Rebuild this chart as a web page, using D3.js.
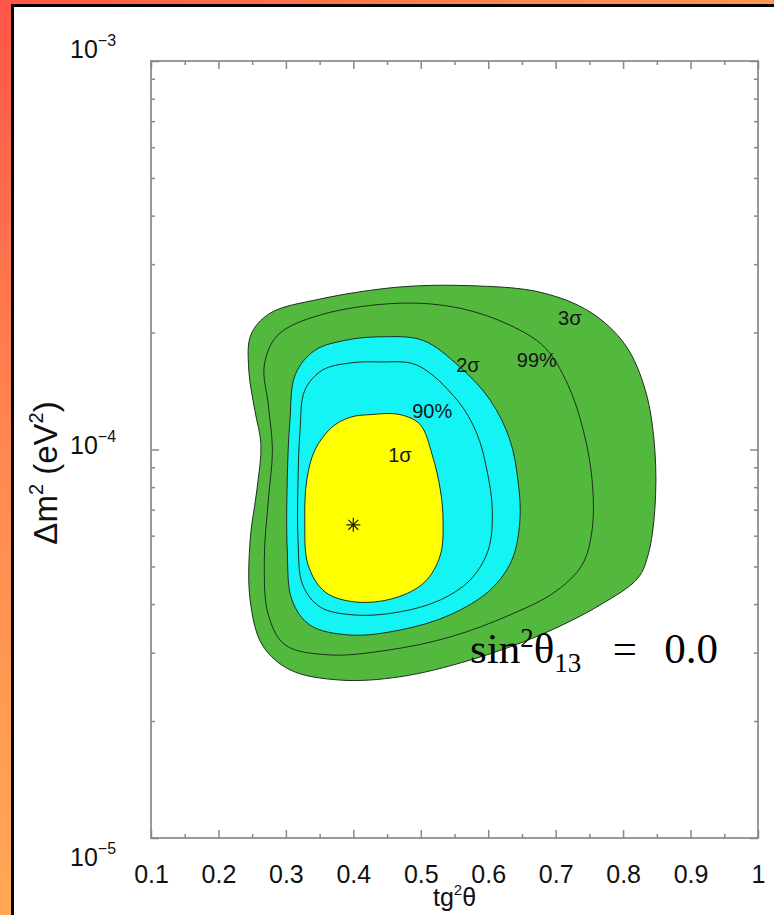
<!DOCTYPE html>
<html>
<head>
<meta charset="utf-8">
<script src="https://cdn.jsdelivr.net/npm/d3@7"></script>
<style>
  html, body { margin: 0; padding: 0; background: #fff; }
  svg { display: block; }
</style>
</head>
<body>
<script>
// ---- data: allowed regions in the (tg^2 theta, delta m^2) plane ----
const xTickValues = [0.1, 0.2, 0.3, 0.4, 0.5, 0.6, 0.7, 0.8, 0.9, 1.0];
const xTickLabels = ["0.1", "0.2", "0.3", "0.4", "0.5", "0.6", "0.7", "0.8", "0.9", "1"];
const yDecadeExponents = [-5, -4, -3];

// 3 sigma region (outer boundary)
const contour3sigma = [
  [0.573, 2.64e-4], [0.677, 2.54e-4], [0.751, 2.26e-4], [0.803, 1.86e-4],
  [0.833, 1.42e-4], [0.847, 1.00e-4], [0.847, 7.0e-5], [0.837, 5.35e-5],
  [0.822, 4.67e-5], [0.766, 3.98e-5], [0.677, 3.33e-5], [0.573, 2.87e-5],
  [0.469, 2.60e-5], [0.380, 2.55e-5], [0.306, 2.71e-5], [0.265, 3.14e-5],
  [0.247, 4.10e-5], [0.247, 5.85e-5], [0.257, 7.87e-5], [0.263, 1.03e-4],
  [0.254, 1.26e-4], [0.245, 1.60e-4], [0.248, 1.97e-4], [0.276, 2.24e-4],
  [0.351, 2.44e-4], [0.469, 2.62e-4]
];
// 99% C.L. line
const contour99 = [
  [0.469, 2.38e-4], [0.558, 2.31e-4], [0.632, 2.09e-4], [0.684, 1.83e-4],
  [0.718, 1.47e-4], [0.741, 1.12e-4], [0.754, 8.35e-5], [0.754, 6.21e-5],
  [0.739, 5.04e-5], [0.699, 4.30e-5], [0.632, 3.75e-5], [0.543, 3.29e-5],
  [0.454, 3.05e-5], [0.365, 2.96e-5], [0.299, 3.14e-5], [0.274, 3.75e-5],
  [0.268, 5.19e-5], [0.274, 7.41e-5], [0.280, 9.97e-5], [0.274, 1.30e-4],
  [0.268, 1.65e-4], [0.288, 1.97e-4], [0.351, 2.22e-4]
];
// 2 sigma region
const contour2sigma = [
  [0.440, 1.95e-4], [0.503, 1.91e-4], [0.558, 1.63e-4], [0.603, 1.34e-4],
  [0.632, 1.06e-4], [0.644, 8.35e-5], [0.647, 6.58e-5], [0.635, 5.19e-5],
  [0.603, 4.35e-5], [0.543, 3.75e-5], [0.469, 3.43e-5], [0.395, 3.33e-5],
  [0.336, 3.53e-5], [0.309, 4.10e-5], [0.302, 5.51e-5], [0.302, 8.35e-5],
  [0.306, 1.19e-4], [0.314, 1.56e-4], [0.343, 1.80e-4], [0.388, 1.91e-4]
];
// 90% C.L. line
const contour90 = [
  [0.440, 1.68e-4], [0.494, 1.65e-4], [0.554, 1.34e-4], [0.583, 1.10e-4],
  [0.598, 8.86e-5], [0.606, 6.99e-5], [0.600, 5.51e-5], [0.573, 4.61e-5],
  [0.529, 4.10e-5], [0.469, 3.82e-5], [0.402, 3.75e-5], [0.351, 3.93e-5],
  [0.325, 4.48e-5], [0.318, 5.85e-5], [0.318, 8.35e-5], [0.321, 1.12e-4],
  [0.328, 1.42e-4], [0.354, 1.60e-4], [0.395, 1.67e-4]
];
// 1 sigma region
const contour1sigma = [
  [0.425, 1.23e-4], [0.469, 1.23e-4], [0.499, 1.16e-4], [0.517, 9.68e-5],
  [0.529, 7.87e-5], [0.533, 6.58e-5], [0.529, 5.35e-5], [0.506, 4.56e-5],
  [0.462, 4.15e-5], [0.403, 4.05e-5], [0.358, 4.30e-5], [0.333, 5.04e-5],
  [0.328, 6.58e-5], [0.331, 8.35e-5], [0.343, 9.97e-5], [0.368, 1.14e-4],
  [0.395, 1.21e-4]
];
const bestFit = [0.40, 6.4e-5];

const levelNames = ["3σ", "99%", "2σ", "90%", "1σ"];
const levelLabelAt = [[0.721, 2.18e-4], [0.672, 1.70e-4], [0.570, 1.65e-4], [0.517, 1.26e-4], [0.469, 9.68e-5]];

// ---- drawing ----
const W = 774, H = 915;
const sans = "Liberation Sans, Arial, Helvetica, sans-serif";
const serif = "Liberation Serif, Times New Roman, serif";

const svg = d3.select("body").append("svg")
  .attr("width", W).attr("height", H)
  .attr("viewBox", `0 0 ${W} ${H}`);

// warm gradient surround with a white page inset by a black edge
const defs = svg.append("defs");
const grad = defs.append("linearGradient").attr("id", "frameGrad")
  .attr("gradientUnits", "userSpaceOnUse")
  .attr("x1", 0).attr("y1", 0).attr("x2", W).attr("y2", H);
[["0", "#ff5548"], ["0.3", "#ff8a50"], ["0.6", "#ffaa55"], ["1", "#ffb85a"]]
  .forEach(([o, c]) => grad.append("stop").attr("offset", o).attr("stop-color", c));

svg.append("rect").attr("width", W).attr("height", H).attr("fill", "url(#frameGrad)");
svg.append("rect")
  .attr("x", 12.5).attr("y", 5.5).attr("width", W + 20).attr("height", H + 20)
  .attr("fill", "#fff").attr("stroke", "#000").attr("stroke-width", 3);

const x = d3.scaleLinear().domain([0.1, 1]).range([151, 758]);
const y = d3.scaleLog().domain([1e-5, 1e-3]).range([838, 61]);

const line = d3.line()
  .x(d => x(d[0])).y(d => y(d[1]))
  .curve(d3.curveCatmullRomClosed.alpha(0.5));

const plot = svg.append("g");
const edge = "#1d2f1d";

plot.append("path").attr("d", line(contour3sigma))
  .attr("fill", "#52b83e").attr("stroke", edge).attr("stroke-width", 1);
plot.append("path").attr("d", line(contour99))
  .attr("fill", "none").attr("stroke", edge).attr("stroke-width", 1);
plot.append("path").attr("d", line(contour2sigma))
  .attr("fill", "#14f4f4").attr("stroke", edge).attr("stroke-width", 1);
plot.append("path").attr("d", line(contour90))
  .attr("fill", "none").attr("stroke", edge).attr("stroke-width", 1);
plot.append("path").attr("d", line(contour1sigma))
  .attr("fill", "#ffff00").attr("stroke", edge).attr("stroke-width", 1);

// best-fit point: eight-armed asterisk
const star = {
  draw(ctx, size) {
    const r = Math.sqrt(size) / 2;
    for (let k = 0; k < 4; k++) {
      const a = k * Math.PI / 4;
      ctx.moveTo(r * Math.cos(a), r * Math.sin(a));
      ctx.lineTo(-r * Math.cos(a), -r * Math.sin(a));
    }
  }
};
plot.append("path")
  .attr("transform", `translate(${x(bestFit[0])},${y(bestFit[1])})`)
  .attr("d", d3.symbol(star, 196)())
  .attr("fill", "none").attr("stroke", "#222").attr("stroke-width", 1.2);

// level labels
plot.selectAll("text.level").data(levelNames).join("text")
  .attr("class", "level")
  .attr("x", (d, i) => x(levelLabelAt[i][0]))
  .attr("y", (d, i) => y(levelLabelAt[i][1]))
  .attr("dy", "0.35em")
  .attr("text-anchor", "middle")
  .attr("font-family", sans)
  .attr("font-size", 20).attr("fill", "#151515")
  .text(d => d);

// frame
svg.append("rect")
  .attr("x", x(0.1)).attr("y", y(1e-3))
  .attr("width", x(1) - x(0.1)).attr("height", y(1e-5) - y(1e-3))
  .attr("fill", "none").attr("stroke", "#999").attr("stroke-width", 2);

const xMinor = d3.range(0.15, 1.0, 0.1);
const yMinor = [];
yDecadeExponents.slice(0, -1).forEach(e => { for (let k = 2; k <= 9; k++) yMinor.push(k * Math.pow(10, e)); });
const yMajor = yDecadeExponents.map(e => Math.pow(10, e));

function styleAxis(g) {
  g.select(".domain").remove();
  g.selectAll(".tick line").attr("stroke", "#888").attr("stroke-width", 1.5);
}

// bottom axis with labels
const bottom = svg.append("g").attr("transform", `translate(0,${y(1e-5)})`)
  .call(d3.axisBottom(x).tickValues(xTickValues).tickSizeInner(-8).tickSizeOuter(0)
    .tickPadding(27).tickFormat((d, i) => xTickLabels[i]));
styleAxis(bottom);
bottom.selectAll("text").attr("font-family", sans)
  .attr("font-size", 25).attr("fill", "#111");
svg.append("g").attr("transform", `translate(0,${y(1e-5)})`)
  .call(d3.axisBottom(x).tickValues(xMinor).tickSize(-4).tickFormat(""))
  .call(styleAxis);
// top mirror
svg.append("g").attr("transform", `translate(0,${y(1e-3)})`)
  .call(d3.axisTop(x).tickValues(xTickValues).tickSize(-8).tickFormat(""))
  .call(styleAxis);
svg.append("g").attr("transform", `translate(0,${y(1e-3)})`)
  .call(d3.axisTop(x).tickValues(xMinor).tickSize(-4).tickFormat(""))
  .call(styleAxis);
// left and right
svg.append("g").attr("transform", `translate(${x(0.1)},0)`)
  .call(d3.axisLeft(y).tickValues(yMajor).tickSize(-8).tickFormat(""))
  .call(styleAxis);
svg.append("g").attr("transform", `translate(${x(0.1)},0)`)
  .call(d3.axisLeft(y).tickValues(yMinor).tickSize(-4).tickFormat(""))
  .call(styleAxis);
svg.append("g").attr("transform", `translate(${x(1)},0)`)
  .call(d3.axisRight(y).tickValues(yMajor).tickSize(-8).tickFormat(""))
  .call(styleAxis);
svg.append("g").attr("transform", `translate(${x(1)},0)`)
  .call(d3.axisRight(y).tickValues(yMinor).tickSize(-4).tickFormat(""))
  .call(styleAxis);

// decade labels 10^n (the outer two sit slightly beyond the frame corners)
const decadeNudge = { "-5": 28, "-4": 4, "-3": -3 };
const ylab = svg.append("g").attr("font-family", sans).attr("fill", "#111");
yDecadeExponents.forEach(e => {
  const t = ylab.append("text")
    .attr("x", 70).attr("y", y(Math.pow(10, e)) + decadeNudge[e])
    .attr("font-size", 25);
  t.append("tspan").text("10");
  t.append("tspan").attr("dy", -12).attr("font-size", 16).text("−" + Math.abs(e));
});

// axis titles
const xt = svg.append("text")
  .attr("x", x(0.55)).attr("y", 906).attr("text-anchor", "middle")
  .attr("font-family", sans).attr("font-size", 25).attr("fill", "#111");
xt.append("tspan").text("tg");
xt.append("tspan").attr("dy", -11).attr("font-size", 15).text("2");
xt.append("tspan").attr("dy", 11).text("θ");

const yt = svg.append("text")
  .attr("transform", "translate(57,473) rotate(-90)")
  .attr("text-anchor", "middle")
  .attr("font-family", sans).attr("font-size", 33).attr("fill", "#111");
yt.append("tspan").text("Δm");
yt.append("tspan").attr("dy", -14).attr("font-size", 20).text("2");
yt.append("tspan").attr("dy", 14).text(" (eV");
yt.append("tspan").attr("dy", -14).attr("font-size", 20).text("2");
yt.append("tspan").attr("dy", 14).text(")");

// mixing-angle note
const note = svg.append("g").attr("font-family", serif).attr("fill", "#000").attr("font-size", 43);
const lhs = note.append("text").attr("x", 470).attr("y", 663);
lhs.append("tspan").text("sin");
lhs.append("tspan").attr("dy", -16).attr("font-size", 27).text("2");
lhs.append("tspan").attr("dy", 16).text("θ");
lhs.append("tspan").attr("dy", 9).attr("font-size", 27).text("13");
note.append("text").attr("x", 625).attr("y", 663).attr("text-anchor", "middle").text("=");
note.append("text").attr("x", 718).attr("y", 663).attr("text-anchor", "end").text("0.0");
</script>
</body>
</html>
